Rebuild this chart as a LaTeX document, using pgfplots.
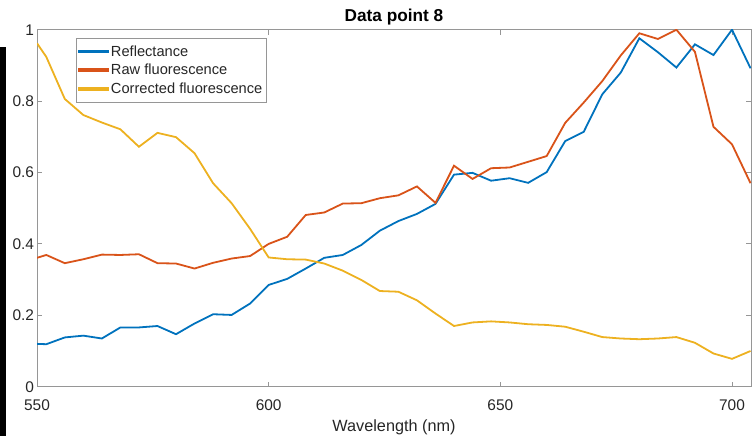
\documentclass[border=0pt]{standalone}
\usepackage{fontspec}
\setmainfont{Liberation Sans}
\usepackage{pgfplots}
\pgfplotsset{compat=1.18}
\definecolor{mblue}{RGB}{0,114,189}
\definecolor{mred}{RGB}{217,83,25}
\definecolor{myellow}{RGB}{237,177,32}
\definecolor{axgray}{RGB}{150,150,150}
\definecolor{txt}{RGB}{38,38,38}
\pgfplotscreateplotcyclelist{matlab}{
  {mblue, line width=1.8bp},
  {mred, line width=1.8bp},
  {myellow, line width=1.8bp}}
\begin{document}
\begin{tikzpicture}
\begin{axis}[
  at={(0,0)}, anchor=south west,
  scale only axis, width=714bp, height=357bp,
  xmin=550, xmax=704.1, ymin=0, ymax=1,
  xtick={550,600,650,700},
  ytick={0,0.2,0.4,0.6,0.8,1},
  yticklabels={0,0.2,0.4,0.6,0.8,1},
  tick align=inside,
  major tick length=5bp,
  axis line style={axgray, line width=0.8bp},
  every tick/.style={axgray, line width=0.8bp},
  /pgf/number format/assume math mode=true,
  tick label style={font=\fontsize{15.5}{18}\selectfont, text=txt},
  xticklabel style={yshift=-9bp},
  yticklabel style={xshift=0.5bp},
  xlabel={Wavelength (nm)},
  xlabel style={font=\fontsize{16.3}{19}\selectfont, text=txt, yshift=-3bp},
  title={\textbf{Data point 8}},
  title style={font=\fontsize{17.3}{20}\selectfont, text=black, yshift=-5bp},
  cycle list name=matlab,
  legend style={at={(0.0546,0.9776)}, anchor=north west,
    draw=axgray, fill=white, text=txt,
    font=\fontsize{14.7}{17}\selectfont,
    inner xsep=2bp, inner ysep=5.6bp, row sep=2.6bp},
  legend cell align=left,
  legend image code/.code={\fill[#1] (0bp,-0.85bp) rectangle (29bp,0.85bp);},
]
\addplot coordinates {
(550,0.120) (552,0.119) (556,0.138) (560,0.143) (564,0.135) (568,0.166) (572,0.166) (576,0.170) (580,0.147) (584,0.177)
(588,0.203) (592,0.201) (596,0.233) (600,0.285) (604,0.302) (608,0.331) (612,0.361) (616,0.369) (620,0.397) (624,0.437)
(628,0.464) (632,0.484) (636,0.512) (640,0.594) (644,0.599) (648,0.577) (652,0.584) (656,0.571) (660,0.601) (664,0.688)
(668,0.714) (672,0.819) (676,0.880) (680,0.976) (684,0.937) (688,0.894) (692,0.959) (696,0.929) (700,1.000) (704,0.892)
};
\addlegendentry{Reflectance}
\addplot coordinates {
(550,0.361) (552,0.369) (556,0.346) (560,0.357) (564,0.370) (568,0.369) (572,0.371) (576,0.346) (580,0.345) (584,0.331)
(588,0.347) (592,0.359) (596,0.366) (600,0.400) (604,0.420) (608,0.481) (612,0.488) (616,0.513) (620,0.514) (624,0.528)
(628,0.536) (632,0.561) (636,0.515) (640,0.619) (644,0.582) (648,0.612) (652,0.614) (656,0.630) (660,0.646) (664,0.739)
(668,0.796) (672,0.856) (676,0.928) (680,0.990) (684,0.974) (688,1.000) (692,0.938) (696,0.728) (700,0.679) (704,0.570)
};
\addlegendentry{Raw fluorescence}
\addplot coordinates {
(550,0.962) (552,0.924) (556,0.806) (560,0.761) (564,0.740) (568,0.721) (572,0.672) (576,0.711) (580,0.699) (584,0.654)
(588,0.570) (592,0.514) (596,0.442) (600,0.362) (604,0.357) (608,0.356) (612,0.345) (616,0.325) (620,0.299) (624,0.268)
(628,0.266) (632,0.242) (636,0.205) (640,0.170) (644,0.180) (648,0.183) (652,0.180) (656,0.175) (660,0.173) (664,0.168)
(668,0.154) (672,0.139) (676,0.135) (680,0.133) (684,0.135) (688,0.139) (692,0.123) (696,0.093) (700,0.078) (704,0.100)
};
\addlegendentry{Corrected fluorescence}
\end{axis}
\fill[black] (-37bp,-49bp) rectangle (-31.3bp,340bp);
\pgfresetboundingbox
\useasboundingbox (-37bp,-56.3bp) rectangle (715bp,386.7bp);
\end{tikzpicture}
\end{document}
